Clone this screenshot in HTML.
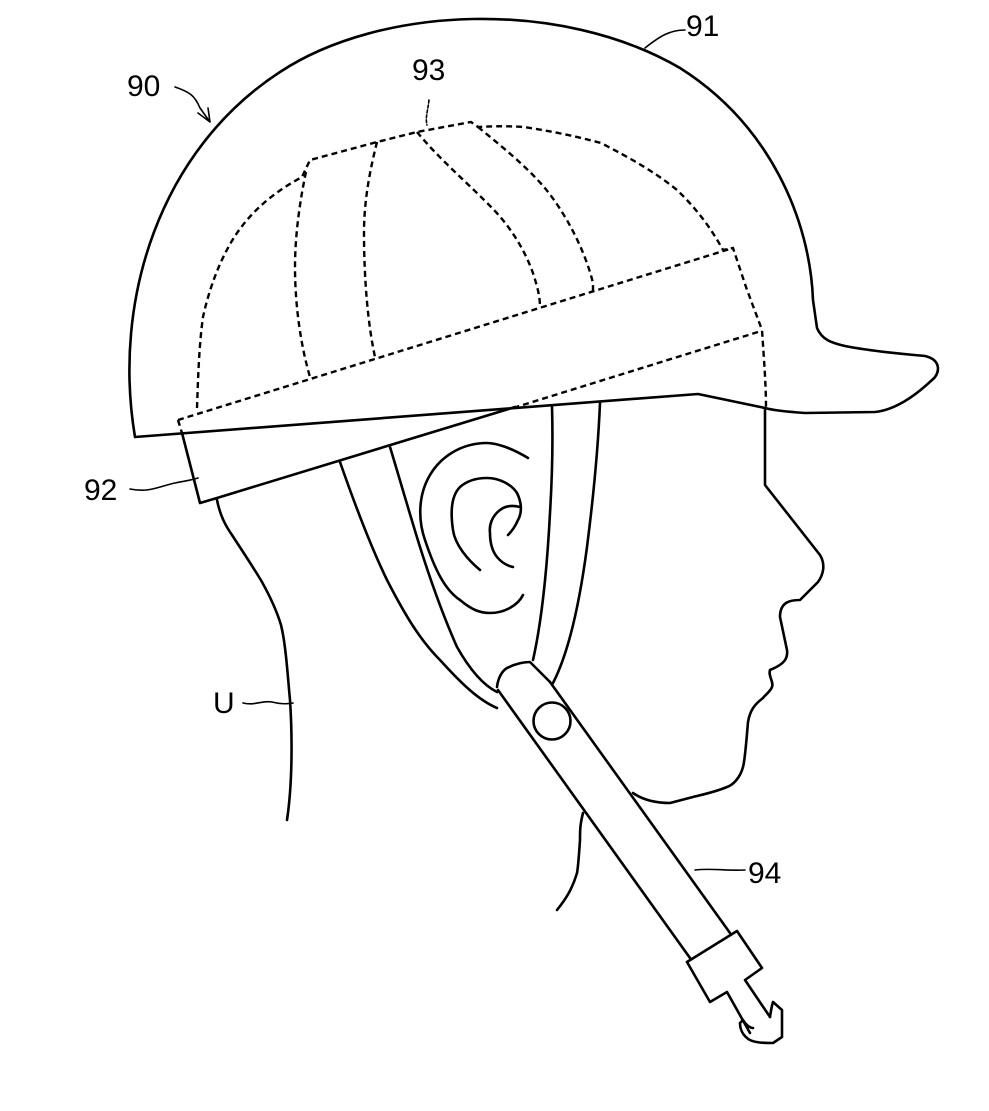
<!DOCTYPE html>
<html><head><meta charset="utf-8"><style>
html,body{margin:0;padding:0;background:#fff;}
svg{display:block;}
text{font-family:"Liberation Sans",sans-serif;font-size:30px;fill:#000;}
</style></head><body>
<svg width="989" height="1111" viewBox="0 0 989 1111" xmlns="http://www.w3.org/2000/svg">
<g fill="none" stroke="#000" stroke-width="2.6" stroke-linejoin="round" stroke-linecap="round">
<!-- shell & visor -->
<path d="M135,437 C112,300 160,150 280,72 C380,6 560,-2 680,68 C770,125 810,220 813,300 L817,328 C822,340 832,343 845,346 C875,352 905,354 925,356 C942,360 940,374 932,380 C915,396 895,410 875,412 L805,413 C790,412 772,410 765,408 L698,394 L135,437"/>
<!-- band solid front -->
<path d="M182,433 L200,503 L217,498 L515,407"/>
<!-- face -->
<path d="M765,408 L765,485 L820,555 C826,565 823,575 818,582 L800,600 C790,600 780,602 780,617 L787,650 C788,658 785,664 770,670 C768,676 774,682 772,687 C770,692 765,695 763,698 C755,704 750,710 748,722 C746,745 745,760 743,767 C740,778 733,785 727,787 C715,792 705,794 693,797 L670,803 C655,803 643,800 633,793"/>
<!-- neck front -->
<path d="M583,813 C580,825 580,830 580,840 C579,855 578,868 577,873 C572,890 565,900 557,910"/>
<!-- back of head/neck -->
<path d="M217,500 C220,515 225,525 232,535 C245,555 255,570 262,582 C272,600 278,615 281,625 C286,645 288,680 290,700 C292,730 293,780 287,820"/>
<!-- straps -->
<path d="M340,462 C355,505 370,545 387,580 C405,615 420,640 440,660 C460,682 478,700 497,708"/>
<path d="M390,447 C400,480 410,515 420,547 C432,585 445,620 457,647 C470,670 483,685 497,692"/>
<path d="M552,407 C553,440 552,480 550,513 C547,570 542,620 533,660"/>
<path d="M600,403 C598,450 593,500 587,547 C580,600 570,650 553,683"/>
<!-- ear -->
<path d="M528,458 C510,447 495,443 487,443 C460,443 440,458 430,475 C418,495 418,520 425,540 C435,570 445,590 460,600 C472,610 480,613 490,613 C505,613 518,605 523,595"/>
<path d="M480,570 C468,560 455,545 453,530 C450,510 452,495 460,487 C468,480 478,478 487,478 C500,478 512,485 517,493 C522,503 522,513 518,520 C515,527 511,532 508,535"/>
<path d="M520,507 C512,505 505,506 500,510 C492,516 489,525 490,533 C490,545 493,552 497,557 C502,563 508,566 513,567"/>
<!-- buckle strap -->
<path d="M497,687 C498,678 502,671 507,668 C515,664 523,662 530,662 L550,682"/>
<path d="M498,690 L690,958"/>
<path d="M550,682 L730,933"/>
<circle cx="552" cy="721" r="18.5"/>
<path d="M687,962 L737,931 L762,968 L745,980 L770,1017"/>
<path d="M687,962 L710,1002 L727,992 L750,1033"/>
<path d="M770,1017 C771,1010 772,1005 773,1002 L782,1010 L782,1037 L773,1043 C765,1043 752,1043 747,1038 C742,1034 740,1028 740,1023 L743,1020 C746,1025 750,1028 753,1028"/>
<!-- leaders -->
<path d="M175,87 C190,92 195,96 200,108 L210,122 M198,113 L210,122 L208,108" stroke-width="1.6"/>
<path d="M645,48 C660,36 670,30 685,30" stroke-width="1.6"/>
<path d="M130,489 C150,493 160,486 175,483 C185,481 192,480 198,478" stroke-width="1.6"/>
<path d="M243,703 C255,706 262,700 272,702 C280,704 288,704 293,703" stroke-width="1.6"/>
<path d="M695,870 C712,868 725,871 745,870" stroke-width="1.6"/>
<path d="M429,100 C428,110 425,118 427,125" stroke-width="1.6" stroke-dasharray="3 2"/>
</g>
<!-- dashed -->
<g fill="none" stroke="#000" stroke-width="2.4" stroke-dasharray="6 4">
<path d="M197,408 C198,380 199,345 203,317 C210,285 222,255 237,233 C255,207 278,190 302,177 L310,160 L377,142 L417,132 L471,122 L478,127 C495,126 510,126 524,127 C550,131 575,136 601,143 C630,158 655,172 677,190 C698,210 712,230 723,250 L733,248 L746,287 L762,330 C764,360 766,385 766,408"/>
<path d="M178,420 L733,248"/>
<path d="M758,332 L513,408"/>
<path d="M178,420 L182,433"/>
<path d="M306,172 C300,200 295,235 295,267 C295,310 302,350 310,377"/>
<path d="M377,142 C370,170 364,200 364,233 C364,280 368,325 375,357"/>
<path d="M417,132 C440,160 470,185 494,210 C515,232 530,260 536,283 C539,293 540,300 540,308"/>
<path d="M478,127 C500,145 525,165 544,187 C565,212 585,250 593,283 L593,292"/>
</g>
<text x="127" y="96">90</text>
<text x="686" y="36">91</text>
<text x="84" y="500">92</text>
<text x="412" y="80">93</text>
<text x="748" y="883">94</text>
<text x="213" y="713">U</text>
</svg>
</body></html>
